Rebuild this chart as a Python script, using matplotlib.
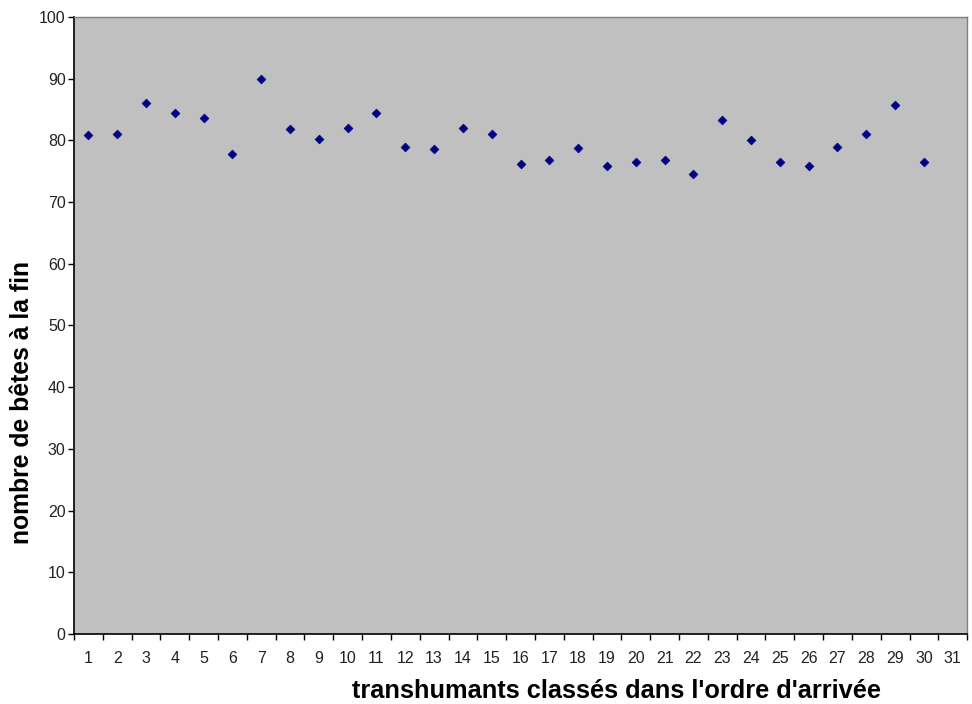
import matplotlib
matplotlib.use("Agg")
import matplotlib.pyplot as plt
from matplotlib.ticker import FixedLocator, MultipleLocator

plt.rcParams["font.family"] = ["Liberation Sans", "DejaVu Sans"]

# Number of animals at the end, by order of arrival
rank = list(range(1, 31))
nb_betes = [80.8, 81.1, 86.0, 84.5, 83.6, 77.8, 90.0, 81.8, 80.3, 82.0,
            84.5, 79.0, 78.6, 82.0, 81.1, 76.1, 76.8, 78.8, 75.8, 76.5,
            76.8, 74.6, 83.3, 80.0, 76.5, 75.8, 79.0, 81.0, 85.7, 76.5]
categories = list(range(1, 32))

fig = plt.figure(figsize=(9.72, 7.04), dpi=100)
ax = fig.add_axes([0.0761, 0.0994, 0.9189, 0.8765])
ax.set_facecolor("#C0C0C0")

ax.scatter(rank, nb_betes, marker="D", s=20, color="#000080",
           edgecolors="#000080", linewidths=0.5, zorder=3)

ax.set_xlim(0.5, len(categories) + 0.5)
ax.set_ylim(0, 100)

# category labels at centres, tick marks on category boundaries
ax.xaxis.set_major_locator(FixedLocator(categories))
ax.set_xticklabels([str(c) for c in categories])
ax.xaxis.set_minor_locator(FixedLocator([c + 0.5 for c in range(0, 32)]))
ax.tick_params(axis="x", which="major", length=0, pad=12, labelsize=11.5,
               labelcolor="#222222")
ax.tick_params(axis="x", which="minor", length=4, width=1, direction="out")

ax.yaxis.set_major_locator(MultipleLocator(10))
ax.tick_params(axis="y", which="major", length=4, width=1, direction="out",
               pad=2, labelsize=11.5, labelcolor="#222222")

for side in ["left", "bottom"]:
    ax.spines[side].set_color("black")
    ax.spines[side].set_linewidth(1.2)
for side in ["right", "top"]:
    ax.spines[side].set_color("#808080")
    ax.spines[side].set_linewidth(1.0)

fig.text(0.634, 0.019, "transhumants classés dans l'ordre d'arrivée",
         fontsize=18.3, fontweight="bold", ha="center", va="center")
fig.text(0.023, 0.4276, "nombre de bêtes à la fin", rotation=90,
         fontsize=17.8, fontweight="bold", ha="center", va="center")

fig.savefig("out.png", dpi=100, facecolor="white")
